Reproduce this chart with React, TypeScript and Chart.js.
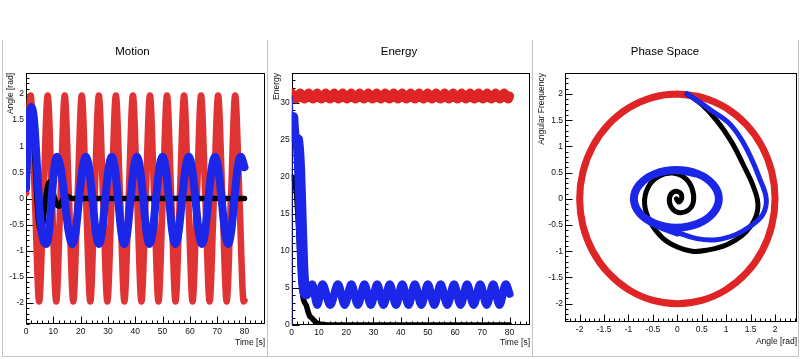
import React, { useEffect, useRef } from 'react';
import { Chart, registerables } from 'chart.js';

Chart.register(...registerables);

const FONT = "'Liberation Sans', Arial, Helvetica, sans-serif";
const RED = 'rgb(222,36,36)';
const RED_LIGHT = 'rgb(224,52,52)';
const BLUE = 'rgb(28,38,232)';
const BLACK = '#000000';

// ---------- Motion (angle vs time) ----------
const redMotionT = [0, 1.7, 3.26, 4.82, 6.38, 7.94, 9.5, 11.06, 12.62, 14.18, 15.74, 17.3, 18.86, 20.42, 21.98, 23.54, 25.1, 26.66, 28.22, 29.78, 31.34, 32.9, 34.46, 36.02, 37.58, 39.14, 40.7, 42.26, 43.82, 45.38, 46.94, 48.5, 50.06, 51.62, 53.18, 54.74, 56.3, 57.86, 59.42, 60.98, 62.54, 64.1, 65.66, 67.22, 68.78, 70.34, 71.9, 73.46, 75.02, 76.58, 78.14, 79.7, 80];
const redMotionA = [0.1, 1.97, 0, -1.97, 0, 1.97, 0, -1.97, 0, 1.97, 0, -1.97, 0, 1.97, 0, -1.97, 0, 1.97, 0, -1.97, 0, 1.97, 0, -1.97, 0, 1.97, 0, -1.97, 0, 1.97, 0, -1.97, 0, 1.97, 0, -1.97, 0, 1.97, 0, -1.97, 0, 1.97, 0, -1.97, 0, 1.97, 0, -1.97, 0, 1.97, 0, -1.97, -1.95];

const blueMotionT = [0, 0.5, 1.1, 2.0, 2.9, 3.7, 4.7, 5.8,
  7.5, 8.45, 9.4, 10.35, 11.3, 12.725, 14.15, 15.575,
  17.0, 18.225, 19.45, 20.675, 21.9, 23.1, 24.3, 25.5,
  26.7, 27.875, 29.05, 30.225, 31.4, 32.55, 33.7, 34.85,
  36.0, 37.15, 38.3, 39.45, 40.6, 41.75, 42.9, 44.05,
  45.2, 46.4, 47.6, 48.8, 50.0, 51.175, 52.35, 53.525,
  54.7, 55.925, 57.15, 58.375, 59.6, 60.8, 62.0, 63.2,
  64.4, 65.6, 66.8, 68.0, 69.2, 70.4, 71.6, 72.8,
  74.0, 75.15, 76.3, 77.45, 78.6, 80];
const blueMotionA = [0.2, 0.95, 1.52, 1.75, 1.52, 0.9, 0, -0.65,
  -0.87, -0.62, 0, 0.57, 0.8, 0.57, 0, -0.62,
  -0.87, -0.62, 0, 0.57, 0.8, 0.57, 0, -0.62,
  -0.87, -0.62, 0, 0.57, 0.8, 0.57, 0, -0.62,
  -0.87, -0.62, 0, 0.57, 0.8, 0.57, 0, -0.62,
  -0.87, -0.62, 0, 0.57, 0.8, 0.57, 0, -0.62,
  -0.87, -0.62, 0, 0.57, 0.8, 0.57, 0, -0.62,
  -0.87, -0.62, 0, 0.57, 0.8, 0.57, 0, -0.62,
  -0.87, -0.62, 0, 0.57, 0.8, 0.6];

const blackMotionT = [0, 0.6, 1.2, 1.9, 2.6, 3.3, 4.0, 4.6, 5.4, 6.3, 7.2, 8.0, 8.8, 9.6, 10.5, 11.3, 12.0, 12.8, 13.6, 14.5, 15.5, 17.0, 80];
const blackMotionA = [0.2, 0.9, 1.45, 1.65, 1.4, 0.7, 0, -0.42, -0.62, -0.42, 0, 0.25, 0.32, 0.2, 0, -0.12, -0.15, -0.08, 0, 0.05, 0.03, 0, 0];

// ---------- Energy vs time ----------
const redEnergyT = [0, 1.56, 3.12, 4.68, 6.24, 7.8, 9.36, 10.92, 12.48, 14.04, 15.6, 17.16, 18.72, 20.28, 21.84, 23.4, 24.96, 26.52, 28.08, 29.64, 31.2, 32.76, 34.32, 35.88, 37.44, 39.0, 40.56, 42.12, 43.68, 45.24, 46.8, 48.36, 49.92, 51.48, 53.04, 54.6, 56.16, 57.72, 59.28, 60.84, 62.4, 63.96, 65.52, 67.08, 68.64, 70.2, 71.76, 73.32, 74.88, 76.44, 78.0, 79.56, 80];
const redEnergyE = [31.3, 30.5, 31.3, 30.5, 31.3, 30.5, 31.3, 30.5, 31.3, 30.5, 31.3, 30.5, 31.3, 30.5, 31.3, 30.5, 31.3, 30.5, 31.3, 30.5, 31.3, 30.5, 31.3, 30.5, 31.3, 30.5, 31.3, 30.5, 31.3, 30.5, 31.3, 30.5, 31.3, 30.5, 31.3, 30.5, 31.3, 30.5, 31.3, 30.5, 31.3, 30.5, 31.3, 30.5, 31.3, 30.5, 31.3, 30.5, 31.3, 30.5, 31.3, 30.5, 30.9];

const blueEnergyT = [0, 0.05, 0.4, 1.0, 2.2, 2.9, 3.5, 4.1, 4.6, 5.3, 6.2, 7.5, 9.4, 11.3, 14.15, 17.0, 19.45, 21.9, 24.3, 26.7, 29.05, 31.4, 33.7, 36.0, 38.3, 40.6, 42.9, 45.2, 47.6, 50.0, 52.35, 54.7, 57.15, 59.6, 62.0, 64.4, 66.8, 69.2, 71.6, 74.0, 76.3, 78.6, 80];
const blueEnergyE = [0, 31, 28, 25.3, 25.0, 21, 14, 7.5, 5.0, 4.2, 4.6, 5.5, 2.7, 5.5, 2.7, 5.5, 2.7, 5.5, 2.7, 5.5, 2.7, 5.5, 2.7, 5.5, 2.7, 5.5, 2.7, 5.5, 2.7, 5.5, 2.7, 5.5, 2.7, 5.5, 2.7, 5.5, 2.7, 5.5, 2.7, 5.5, 2.7, 5.5, 4.2];

const blackEnergyT = [0, 0.6, 1.2, 1.8, 2.4, 3.0, 3.6, 4.2, 4.8, 5.4, 6.0, 6.6, 7.2, 8.0, 8.8, 9.6, 10.5, 12.0, 15.0, 80];
const blackEnergyE = [20, 19.8, 19.0, 17.5, 14.0, 9.5, 5.5, 3.6, 3.0, 2.6, 1.8, 1.2, 1.0, 0.7, 0.4, 0.2, 0.1, 0.03, 0, 0];

// ---------- Phase space (angular frequency vs angle) ----------
const redPhaseX = [0, 0.518, 1, 1.414, 1.732, 1.932, 2, 1.932, 1.732, 1.414, 1, 0.518, 0, -0.518, -1, -1.414, -1.732, -1.932, -2, -1.932, -1.732, -1.414, -1, -0.518, 0, 0.518];
const redPhaseY = [2, 1.932, 1.732, 1.414, 1, 0.518, 0, -0.518, -1, -1.414, -1.732, -1.932, -2, -1.932, -1.732, -1.414, -1, -0.518, 0, 0.518, 1, 1.414, 1.732, 1.932, 2, 1.932];

const bluePhaseX = [0.2, 0.45, 0.75, 1.05, 1.3, 1.5, 1.68, 1.82, 1.75, 1.5, 1.2, 0.8, 0.4, 0.0, -0.455, -0.77, -0.89, -0.77, -0.455, -0.02, 0.415, 0.73, 0.85, 0.73, 0.415, -0.02, -0.455, -0.77, -0.89, -0.77, -0.455, -0.02, 0.415];
const bluePhaseY = [2.0, 1.85, 1.65, 1.45, 1.15, 0.8, 0.4, 0.0, -0.3, -0.52, -0.68, -0.78, -0.76, -0.64, -0.476, -0.275, 0, 0.275, 0.476, 0.55, 0.476, 0.275, 0, -0.275, -0.476, -0.55, -0.476, -0.275, 0, 0.275, 0.476, 0.55, 0.476];

const blackPhaseX = [0.2, 0.5, 0.8, 1.1, 1.35, 1.55, 1.65, 1.58, 1.35, 1.0, 0.6, 0.3, 0.0, -0.3, -0.55, -0.67, -0.6, -0.38, -0.1, 0.15, 0.3, 0.33, 0.22, 0.02, -0.13, -0.16, -0.08, 0.05, 0.09, 0.03, -0.02];
const blackPhaseY = [2.0, 1.8, 1.5, 1.1, 0.65, 0.25, -0.1, -0.4, -0.68, -0.88, -0.98, -1.0, -0.92, -0.75, -0.45, -0.1, 0.22, 0.43, 0.49, 0.4, 0.2, -0.05, -0.22, -0.26, -0.15, 0.02, 0.13, 0.12, 0.02, -0.06, 0];

// ---------- tick labels ----------
const timeTicks = [0, 10, 20, 30, 40, 50, 60, 70, 80];
const angleTicks = [-2, -1.5, -1, -0.5, 0, 0.5, 1, 1.5, 2];
const energyTicks = [0, 5, 10, 15, 20, 25, 30];
const phaseXTicks = [-2, -1.5, -1, -0.5, 0, 0.5, 1, 1.5, 2];
const phaseYTicks = [-2, -1.5, -1, -0.5, 0, 0.5, 1, 1.5, 2];

const toPoints = (xs: number[], ys: number[]) => xs.map((x, i) => ({ x, y: ys[i] }));

const rootFramePlugin = {
  id: 'rootFrame',
  beforeDatasetsDraw(chart: any, _args: any, opts: any) {
    const { ctx, chartArea: a } = chart;
    const sx = chart.scales.x;
    const sy = chart.scales.y;
    const L = Math.round(a.left) + 0.5;
    const R = Math.round(a.right) - 0.5;
    const T = Math.round(a.top) + 0.5;
    const B = Math.round(a.bottom) - 0.5;
    ctx.save();
    ctx.strokeStyle = '#000';
    ctx.lineWidth = 1;
    ctx.strokeRect(L, T, R - L, B - T);
    ctx.beginPath();
    const xm = opts.xMinor;
    for (let k = Math.ceil(sx.min / xm - 1e-6); k * xm <= sx.max + 1e-6; k++) {
      const p = Math.round(sx.getPixelForValue(k * xm)) + 0.5;
      ctx.moveTo(p, B);
      ctx.lineTo(p, B - 3);
    }
    for (const v of opts.xMajor) {
      const p = Math.round(sx.getPixelForValue(v)) + 0.5;
      ctx.moveTo(p, B);
      ctx.lineTo(p, B - 7);
    }
    const ym = opts.yMinor;
    for (let k = Math.ceil(sy.min / ym - 1e-6); k * ym <= sy.max + 1e-6; k++) {
      const p = Math.round(sy.getPixelForValue(k * ym)) + 0.5;
      ctx.moveTo(L, p);
      ctx.lineTo(L + 3, p);
    }
    for (const v of opts.yMajor) {
      const p = Math.round(sy.getPixelForValue(v)) + 0.5;
      ctx.moveTo(L, p);
      ctx.lineTo(L + 7, p);
    }
    ctx.stroke();
    ctx.restore();
  },
};

function axis(min: number, max: number, ticks: number[], title: string, titlePad: any, size: number, isX: boolean) {
  return {
    type: 'linear',
    min,
    max,
    grid: { display: false, drawTicks: false },
    border: { display: false },
    afterBuildTicks: (s: any) => {
      s.ticks = ticks.map((v) => ({ value: v }));
    },
    afterFit: (s: any) => {
      if (isX) s.height = size;
      else s.width = size;
    },
    ticks: {
      autoSkip: false,
      maxRotation: 0,
      minRotation: 0,
      padding: isX ? 3 : 2,
      color: '#111',
      font: { family: FONT, size: 8.5 },
      callback: (v: any) => String(v),
    },
    title: {
      display: true,
      text: title,
      align: 'end',
      color: '#111',
      font: { family: FONT, size: 8.5 },
      padding: titlePad,
    },
  };
}

function line(data: any, color: string, width: number, extra: any = {}) {
  return {
    data,
    showLine: true,
    borderColor: color,
    backgroundColor: color,
    borderWidth: width,
    pointRadius: 0,
    fill: false,
    borderCapStyle: 'round',
    borderJoinStyle: 'round',
    ...extra,
  };
}

function makeConfig(p: any) {
  return {
    type: 'scatter',
    data: { datasets: p.datasets },
    plugins: [rootFramePlugin],
    options: {
      animation: false,
      responsive: false,
      events: [],
      layout: { padding: { left: 0, right: 3, top: 0, bottom: 0 } },
      scales: { x: p.x, y: p.y },
      plugins: {
        legend: { display: false },
        tooltip: { enabled: false },
        title: {
          display: true,
          text: p.title,
          color: '#000',
          font: { family: FONT, size: 11.5, weight: 'normal' },
          padding: { top: 45, bottom: 14.2 },
        },
        rootFrame: p.frame,
      },
    },
  };
}

const mono = { cubicInterpolationMode: 'monotone' };

const motionConfig = () =>
  makeConfig({
    title: 'Motion',
    datasets: [
      line(toPoints(blueMotionT, blueMotionA), BLUE, 8, mono),
      line(toPoints(blackMotionT, blackMotionA), BLACK, 5.5, mono),
      line(toPoints(redMotionT, redMotionA), RED_LIGHT, 6.5, mono),
    ],
    x: axis(0, 87.5, timeTicks, 'Time [s]', { top: 0, bottom: 10.9 }, 35, true),
    y: axis(-2.4, 2.4, angleTicks, 'Angle [rad]', { top: 5.4, bottom: 0 }, 26, false),
    frame: { xMinor: 2, yMinor: 0.1, xMajor: timeTicks, yMajor: angleTicks },
  });

const energyConfig = () =>
  makeConfig({
    title: 'Energy',
    datasets: [
      line(toPoints(blueEnergyT, blueEnergyE), BLUE, 8, {
        ...mono,
        segment: {
          borderWidth: (c: any) =>
            c.p0DataIndex < 2 ? 1.5 : c.p0DataIndex < 9 ? 11 : undefined,
        },
      }),
      line(toPoints(blackEnergyT, blackEnergyE), BLACK, 5.5, mono),
      line(toPoints(redEnergyT, redEnergyE), RED, 9, mono),
    ],
    x: axis(0, 87.5, timeTicks, 'Time [s]', { top: 0, bottom: 10.9 }, 34, true),
    y: axis(0, 34, energyTicks, 'Energy', { top: 3.6, bottom: 0 }, 23.7, false),
    frame: { xMinor: 2, yMinor: 1, xMajor: timeTicks, yMajor: energyTicks },
  });

const phaseConfig = () =>
  makeConfig({
    title: 'Phase Space',
    datasets: [
      line(toPoints(bluePhaseX, bluePhaseY), BLUE, 8, {
        tension: 0.4,
        segment: { borderWidth: (c: any) => (c.p0DataIndex < 13 ? 5 : undefined) },
      }),
      line(toPoints(blackPhaseX, blackPhaseY), BLACK, 5, { tension: 0.4 }),
      line(toPoints(redPhaseX, redPhaseY), RED, 7, { tension: 0.4 }),
    ],
    x: axis(-2.3, 2.45, phaseXTicks, 'Angle [rad]', { top: 0, bottom: 12 }, 37, true),
    y: axis(-2.35, 2.4, phaseYTicks, 'Angular Frequency', { top: 3.9, bottom: 0 }, 32, false),
    frame: { xMinor: 0.1, yMinor: 0.1, xMajor: phaseXTicks, yMajor: phaseYTicks },
  });

function Panel({ left, width, build }: { left: number; width: number; build: () => any }) {
  const ref = useRef<HTMLCanvasElement>(null);
  useEffect(() => {
    const chart = new Chart(ref.current as HTMLCanvasElement, build());
    return () => chart.destroy();
  }, []);
  return (
    <canvas
      ref={ref}
      width={width}
      height={359}
      style={{ position: 'absolute', left, top: 0, width, height: 359 }}
    />
  );
}

const lineStyle = (s: any) => ({ position: 'absolute' as const, background: '#c4c4c4', ...s });

export default function App() {
  return (
    <div
      style={{
        position: 'fixed',
        left: 0,
        top: 0,
        width: 800,
        height: 359,
        background: '#ffffff',
        overflow: 'hidden',
      }}
    >
      <div style={lineStyle({ left: 2, top: 40, width: 1, height: 316 })} />
      <div style={lineStyle({ left: 267, top: 40, width: 1, height: 316 })} />
      <div style={lineStyle({ left: 532, top: 40, width: 1, height: 316 })} />
      <div style={lineStyle({ left: 798, top: 40, width: 1, height: 316 })} />
      <div style={lineStyle({ left: 2, top: 356, width: 797, height: 1 })} />
      <Panel left={0} width={268} build={motionConfig} />
      <Panel left={268} width={265} build={energyConfig} />
      <Panel left={533} width={267} build={phaseConfig} />
    </div>
  );
}
